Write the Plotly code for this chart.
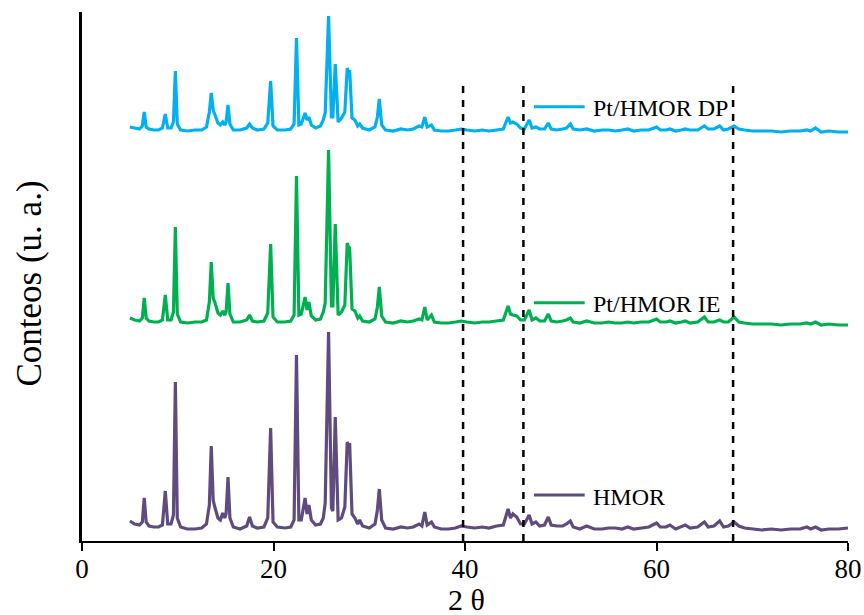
import plotly.graph_objects as go

# 2-theta positions (degrees)
two_theta = [5.0, 5.5, 6.0, 6.3, 6.5, 6.7, 7.0, 7.5, 8.0, 8.4, 8.7, 8.95, 9.3, 9.55, 9.75, 9.95,
             10.3, 11.0, 11.8, 12.5, 13.0, 13.3, 13.5, 13.7, 13.9, 14.2, 14.45, 14.7, 14.9, 15.05,
             15.25, 15.45, 15.8, 16.5, 17.2, 17.5, 17.8, 18.3, 19.0, 19.4, 19.7, 19.95, 20.4, 21.2,
             21.8, 22.15, 22.4, 22.65, 22.9, 23.3, 23.5, 23.7, 23.95, 24.4, 24.9, 25.2, 25.4, 25.75,
             26.05, 26.2, 26.45, 26.75, 27.1, 27.45, 27.7, 27.85, 27.95, 28.2, 28.5, 28.8, 29.0, 29.3,
             30.0, 30.6, 30.85, 31.05, 31.3, 31.7, 32.5, 33.3, 34.0, 34.6, 35.2, 35.5, 35.8, 36.05,
             36.5, 36.8, 37.5, 38.3, 39.0, 39.6, 40.2, 41.0, 41.8, 42.5, 43.3, 44.0, 44.5, 44.75,
             45.0, 45.4, 45.8, 46.2, 46.7, 47.0, 47.4, 47.8, 48.3, 48.7, 49.0, 49.6, 50.2, 50.6,
             51.0, 51.3, 52.0, 52.7, 53.5, 54.3, 55.0, 55.7, 56.4, 57.0, 57.6, 58.4, 59.2, 60.0,
             60.4, 61.0, 61.4, 62.0, 62.6, 63.0, 63.5, 64.3, 65.0, 65.4, 66.0, 66.6, 67.0, 67.5,
             68.1, 68.6, 69.2, 70.0, 71.0, 72.0, 73.0, 74.0, 75.0, 75.7, 76.1, 76.6, 77.2, 78.0,
             79.0, 80.0]

hmor = [20, 17, 16, 19, 43, 19, 15, 14, 14, 16, 50, 17, 17, 26, 159, 23,
        14, 12, 12, 13, 17, 36, 95, 41, 33, 23, 21, 28, 23, 27,
        64, 23, 14, 12, 15, 24, 15, 13, 14, 23, 113, 19, 14, 13,
        14, 21, 186, 21, 21, 43, 27, 36, 21, 16, 17, 23, 38, 209,
        33, 30, 124, 21, 23, 34, 99, 94, 98, 27, 23, 17, 21, 15,
        13, 17, 31, 52, 21, 13, 12, 14, 13, 14, 17, 15, 29, 16,
        19, 14, 12, 12, 13, 15, 14, 13, 14, 13, 15, 16, 32, 23,
        27, 24, 17, 17, 26, 17, 19, 15, 16, 24, 16, 15, 15, 17,
        20, 14, 12, 15, 12, 12, 13, 13, 12, 14, 12, 13, 14, 18,
        14, 14, 16, 12, 14, 16, 13, 14, 19, 14, 15, 20, 14, 15,
        19, 15, 13, 12, 11, 12, 11, 12, 12, 14, 12, 14, 11, 12,
        12, 13]

pt_hmor_ie = [223, 221, 220, 223, 243, 223, 220, 219, 219, 221, 246, 221, 221, 229, 314, 227,
              219, 218, 219, 219, 221, 239, 279, 243, 238, 228, 226, 230, 226, 229,
              258, 227, 219, 219, 221, 226, 220, 219, 220, 228, 297, 224, 219, 219,
              220, 226, 365, 226, 227, 244, 231, 239, 225, 221, 222, 229, 238, 391,
              235, 235, 317, 226, 229, 236, 298, 293, 293, 232, 230, 223, 225, 220,
              219, 222, 234, 254, 225, 219, 218, 220, 219, 220, 222, 221, 234, 221,
              226, 219, 218, 218, 219, 220, 219, 218, 219, 219, 220, 221, 235, 227,
              226, 225, 221, 221, 231, 221, 223, 220, 220, 227, 220, 219, 220, 221,
              223, 219, 218, 220, 218, 218, 219, 218, 218, 219, 218, 219, 219, 222,
              219, 219, 220, 218, 219, 220, 218, 219, 224, 219, 219, 221, 219, 219,
              224, 219, 218, 217, 217, 217, 216, 217, 217, 218, 217, 219, 216, 217,
              216, 216]

pt_hmor_dp = [414, 413, 412, 415, 429, 414, 412, 411, 411, 413, 427, 413, 413, 419, 470, 417,
              411, 410, 411, 411, 414, 429, 448, 431, 426, 418, 416, 419, 416, 419,
              436, 417, 411, 411, 413, 417, 413, 411, 412, 418, 460, 415, 411, 411,
              412, 417, 503, 416, 417, 428, 421, 424, 416, 413, 415, 421, 428, 525,
              424, 424, 477, 419, 423, 429, 473, 469, 471, 423, 421, 415, 417, 413,
              411, 414, 424, 442, 416, 411, 410, 412, 411, 412, 415, 414, 424, 414,
              416, 411, 410, 410, 411, 412, 411, 410, 411, 410, 411, 412, 424, 418,
              419, 417, 413, 412, 421, 413, 414, 412, 412, 418, 412, 411, 412, 413,
              417, 412, 411, 412, 410, 411, 411, 410, 411, 412, 410, 411, 411, 414,
              411, 411, 412, 410, 411, 412, 411, 411, 415, 412, 412, 415, 411, 412,
              415, 412, 411, 410, 410, 410, 409, 410, 410, 411, 410, 413, 409, 410,
              409, 409]

series_names = ["HMOR", "Pt/HMOR IE", "Pt/HMOR DP"]
series_colors = ["#5F4B7E", "#00B050", "#00B0F0"]
series_values = [hmor, pt_hmor_ie, pt_hmor_dp]

pt_lines = [39.8, 46.1, 68.0]
x_ticks = [0, 20, 40, 60, 80]

FONT = "Liberation Serif"

fig = go.Figure()
for name, color, vals in zip(series_names, series_colors, series_values):
    fig.add_trace(go.Scatter(x=two_theta, y=vals, mode="lines", name=name,
                             line=dict(color=color, width=3.2), showlegend=False))

shapes = []
for xv in pt_lines:
    shapes.append(dict(type="line", xref="x", yref="y", x0=xv, x1=xv, y0=0, y1=455,
                       line=dict(color="black", width=2.5, dash="7px,7px")))

# inline legend keys (line sample + label) next to each curve
key_y = [46, 238.3, 434.3]
label_y = [44.5, 237, 433.5]
annotations = []
for name, color, ky, ly in zip(series_names, series_colors, key_y, label_y):
    shapes.append(dict(type="line", xref="x", yref="y", x0=47.2, x1=52.5, y0=ky, y1=ky,
                       line=dict(color=color, width=3)))
    annotations.append(dict(x=53.2, y=ly, xref="x", yref="y", text=name, showarrow=False,
                            xanchor="left", yanchor="middle",
                            font=dict(family=FONT, size=24, color="black")))

annotations.append(dict(x=0.5026, y=-0.1115, xref="paper", yref="paper", text="2 θ",
                        showarrow=False, xanchor="center", yanchor="middle",
                        font=dict(family=FONT, size=30, color="black")))
annotations.append(dict(x=-0.069, y=0.487, xref="paper", yref="paper", text="Conteos (u. a.)",
                        showarrow=False, xanchor="center", yanchor="middle", textangle=-90,
                        font=dict(family=FONT, size=35, color="black")))

fig.update_layout(
    width=864, height=615,
    margin=dict(l=82, r=16, t=12, b=74, autoexpand=False),
    paper_bgcolor="white", plot_bgcolor="white",
    shapes=shapes, annotations=annotations,
    showlegend=False,
    font=dict(family=FONT, color="black"),
)
fig.update_xaxes(range=[0, 80], tickvals=x_ticks, ticktext=[str(t) for t in x_ticks],
                 ticks="outside", ticklen=8, tickwidth=2, tickcolor="black", automargin=False,
                 ticklabelstandoff=-5,
                 showline=True, linecolor="black", linewidth=2, showgrid=False, zeroline=False,
                 tickfont=dict(family=FONT, size=27, color="black"))
fig.update_yaxes(range=[0, 529], showticklabels=False, ticks="", showline=True, automargin=False,
                 linecolor="black", linewidth=3, showgrid=False, zeroline=False)

fig.write_html("out.html", config={"displayModeBar": False},
               post_script="document.body.style.margin='0';")
